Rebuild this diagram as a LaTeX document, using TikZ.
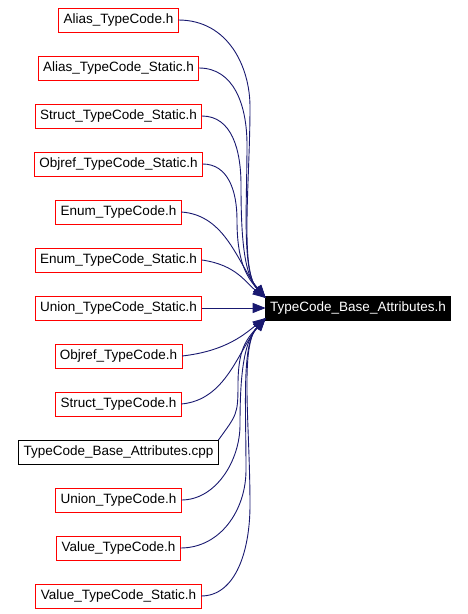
\documentclass[tikz,border=0pt]{standalone}
\usepackage{fontspec}
\setmainfont{Liberation Sans}
\definecolor{dotred}{HTML}{FF0000}
\definecolor{dotedge}{HTML}{191970}
\usetikzlibrary{arrows.meta, positioning}
\tikzset{
  hdr/.style={draw=dotred, text=black, line width=0.9pt, outer sep=0pt, inner xsep=5pt, inner ysep=2pt,
              minimum height=24pt, font=\fontsize{13.5}{16}\selectfont},
  src/.style={hdr, draw=black},
  goal/.style={hdr, draw=black, fill=black, text=white, inner xsep=4.5pt},
  dep/.style={-{Triangle[length=13pt,width=10pt]}, line width=0.9pt, color=dotedge},
}
\begin{document}
\begin{tikzpicture}[x=1pt,y=-1pt]
\useasboundingbox (0,0) rectangle (467,614);
\node[hdr] (alias) at (118.5,20) {Alias\_TypeCode.h};
\node[hdr,below=24pt of alias] (aliasst) {Alias\_TypeCode\_Static.h};
\node[hdr,below=24pt of aliasst] (structst) {Struct\_TypeCode\_Static.h};
\node[hdr,below=24pt of structst] (objrefst) {Objref\_TypeCode\_Static.h};
\node[hdr,below=24pt of objrefst] (enum) {Enum\_TypeCode.h};
\node[hdr,below=24pt of enum] (enumst) {Enum\_TypeCode\_Static.h};
\node[hdr,below=24pt of enumst] (unionst) {Union\_TypeCode\_Static.h};
\node[hdr,below=24pt of unionst] (objref) {Objref\_TypeCode.h};
\node[hdr,below=24pt of objref] (struct) {Struct\_TypeCode.h};
\node[src,below=24pt of struct] (cpp) {TypeCode\_Base\_Attributes.cpp};
\node[hdr,below=24pt of cpp] (union) {Union\_TypeCode.h};
\node[hdr,below=24pt of union] (value) {Value\_TypeCode.h};
\node[hdr,below=24pt of value] (valuest) {Value\_TypeCode\_Static.h};
\node[goal] (tgt) at (358,308) {TypeCode\_Base\_Attributes.h};
\coordinate (tiptop) at ([yshift=10pt]tgt.west);
\coordinate (tipbot) at ([yshift=-10pt]tgt.west);
% includers above the target
\draw[dep] (alias.east) .. controls +(50,0) and +(0,-40) .. (250,107) .. controls +(0,75) and +(-26,-28) .. (tiptop);
\draw[dep] (aliasst.east) .. controls +(35,0) and +(0,-40) .. (247,145) .. controls +(0,60) and +(-24,-26) .. (tiptop);
\draw[dep] (structst.east) .. controls +(30,0) and +(0,-35) .. (241,185) .. controls +(0,50) and +(-22,-24) .. (tiptop);
\draw[dep] (objrefst.east) .. controls +(25,0) and +(0,-30) .. (237,220) .. controls +(0,40) and +(-20,-22) .. (tiptop);
\draw[dep] (enum.east) .. controls +(45,3) and +(-28,-34) .. (tiptop);
\draw[dep] (enumst.east) .. controls +(35,5) and +(-20,-15) .. (tiptop);
\draw[dep] (unionst) -- (tgt);
% includers below the target
\draw[dep] (objref.east) .. controls +(45,-5) and +(-20,15) .. (tipbot);
\draw[dep] (struct.east) .. controls +(45,-4) and +(-28,33) .. (tipbot);
\draw[dep] (cpp.north east) .. controls +(18,-25) and +(0,30) .. (238,385) .. controls +(0,-35) and +(-20,22) .. (tipbot);
\draw[dep] (union.east) .. controls +(35,0) and +(0,35) .. (240,425) .. controls +(0,-50) and +(-22,24) .. (tipbot);
\draw[dep] (value.east) .. controls +(40,0) and +(0,40) .. (246,470) .. controls +(0,-70) and +(-24,26) .. (tipbot);
\draw[dep] (valuest.east) .. controls +(35,0) and +(0,45) .. (250,505) .. controls +(0,-80) and +(-26,28) .. (tipbot);
\end{tikzpicture}
\end{document}
